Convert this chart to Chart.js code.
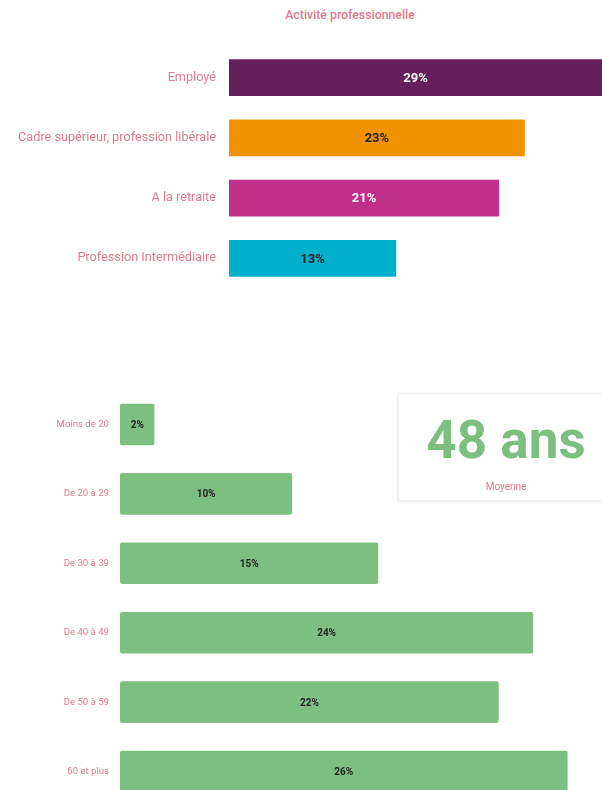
<!DOCTYPE html>
<html>
<head>
<meta charset="utf-8">
<script src="https://cdn.jsdelivr.net/npm/chart.js@4.4.1/dist/chart.umd.min.js"></script>
<style>
  html, body { margin: 0; padding: 0; background: #fff; width: 602px; height: 790px; overflow: hidden; font-family: Roboto, sans-serif; }
  #wrap { position: relative; width: 602px; height: 790px; overflow: hidden; }
  #title1 { position: absolute; left: 250px; width: 200px; top: 8px; text-align: center; font: 500 12.3px Roboto, sans-serif; color: #e07a90; }
  #c1box { position: absolute; left: 0; top: 27px; width: 602px; height: 282px; }
  #c2box { position: absolute; left: 0; top: 373px; width: 602px; height: 450px; }
  #avg { position: absolute; left: 398px; top: 393px; width: 240px; height: 106px; background: #fff; border: 1px solid #f0f0f0; box-shadow: 0 1px 3px rgba(0,0,0,0.10); }
  #avgnum { position: absolute; left: 0; width: 214px; top: 16px; text-align: center; font: 700 53px Roboto, sans-serif; color: #7dbf80; line-height: 60px; }
  #avglbl { position: absolute; left: 0; width: 214px; top: 87px; text-align: center; font: 400 10px Roboto, sans-serif; color: #e07a90; }
</style>
</head>
<body>
<div id="wrap">
  <div id="title1">Activité professionnelle</div>
  <div id="c1box"><canvas id="c1"></canvas></div>
  <div id="c2box"><canvas id="c2"></canvas></div>
  <div id="avg"><div id="avgnum">48 ans</div><div id="avglbl">Moyenne</div></div>
</div>
<script>
// ---- data ----
const activityLabels = ["Employé", "Cadre supérieur, profession libérale", "A la retraite", "Profession Intermédiaire"];
const activityValues = [29, 23, 21, 13];
const ageLabels = ["Moins de 20", "De 20 à 29", "De 30 à 39", "De 40 à 49", "De 50 à 59", "60 et plus"];
const ageValues = [2, 10, 15, 24, 22, 26];
const averageAge = 48;

// ---- styles ----
const activityColors = ["#64205a", "#f39200", "#c0308a", "#00b0cc"];
const activityTextColors = ["#ffffff", "#222222", "#ffffff", "#222222"];
const labelPink = "#e07a90";

document.getElementById('avgnum').textContent = averageAge + " ans";

const valueLabelPlugin = {
  id: 'valueLabels',
  afterDatasetsDraw(chart, args, opts) {
    const ctx = chart.ctx;
    const meta = chart.getDatasetMeta(0);
    const data = chart.data.datasets[0].data;
    ctx.save();
    ctx.font = opts.font;
    ctx.textAlign = 'center';
    ctx.textBaseline = 'middle';
    const area = chart.chartArea;
    meta.data.forEach((bar, i) => {
      const x1 = bar.base, x2 = Math.min(bar.x, area.right);
      ctx.fillStyle = Array.isArray(opts.colors) ? opts.colors[i] : opts.colors;
      ctx.fillText(data[i] + '%', (x1 + x2) / 2, bar.y + 1);
    });
    ctx.restore();
  }
};

function makeChart(id, labels, values, colors, opts) {
  return new Chart(document.getElementById(id), {
    type: 'bar',
    data: { labels: labels, datasets: [{ data: values, backgroundColor: colors, borderRadius: opts.radius, borderSkipped: false, barPercentage: opts.barPct, categoryPercentage: 1 }] },
    options: {
      indexAxis: 'y',
      responsive: true,
      maintainAspectRatio: false,
      animation: false,
      layout: { padding: 0 },
      plugins: {
        legend: { display: false },
        tooltip: { enabled: false },
        valueLabels: { font: opts.valueFont, colors: opts.valueColors }
      },
      scales: {
        x: { display: false, min: 0, max: opts.xmax, grid: { display: false } },
        y: {
          grid: { display: false, drawTicks: false },
          border: { display: false },
          ticks: { color: labelPink, font: { family: 'Roboto', size: opts.tickSize }, padding: opts.tickPad, autoSkip: false },
          afterFit(scale) { scale.width = opts.yWidth; }
        }
      }
    },
    plugins: [valueLabelPlugin]
  });
}

makeChart('c1', activityLabels, activityValues, activityColors, {
  radius: 0, barPct: 0.61, xmax: 29, tickSize: 12.7, tickPad: 13, yWidth: 229,
  valueFont: '700 13px Roboto', valueColors: activityTextColors
});
makeChart('c2', ageLabels, ageValues, '#7dbf80', {
  radius: 2, barPct: 0.6, xmax: 28, tickSize: 9.6, tickPad: 11, yWidth: 120,
  valueFont: '700 10px Roboto', valueColors: '#222222'
});
</script>
</body>
</html>
